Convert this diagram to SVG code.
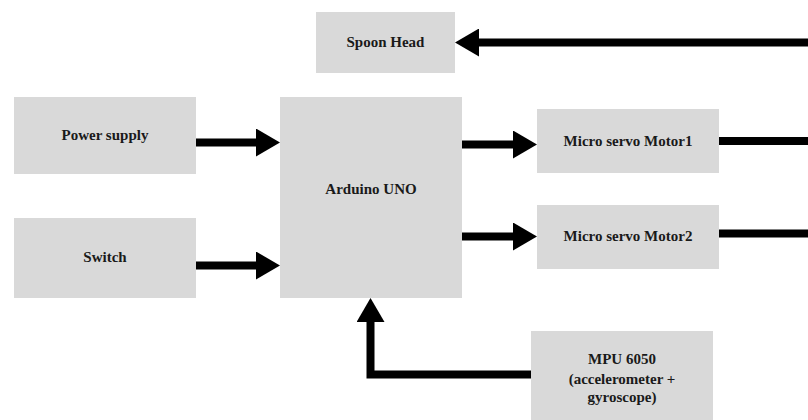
<svg xmlns="http://www.w3.org/2000/svg" width="808" height="420" viewBox="0 0 808 420">
<style>
.box{fill:#d9d9d9;}
.lbl{font-weight:700;font-size:15px;fill:#1a1a1a;text-anchor:middle;}
.wire{fill:none;stroke:#000;stroke-width:8;stroke-linejoin:miter;}
.arr{marker-end:url(#head);}
</style>
<defs>
<marker id="head" viewBox="0 0 24 28" markerWidth="24" markerHeight="28" markerUnits="userSpaceOnUse" refX="2" refY="14" orient="auto">
<path d="M0,0 L24,14 L0,28 Z" fill="#000"/>
</marker>
</defs>
<rect width="808" height="420" fill="#fff"/>
<g id="connectors">
<path class="wire arr" d="M808,42.5 H477"/>
<path class="wire arr" d="M196,142.5 H258"/>
<path class="wire arr" d="M196,265.5 H258"/>
<path class="wire arr" d="M462,144.5 H515"/>
<path class="wire arr" d="M462,236.5 H515"/>
<path class="wire" d="M719,141 H808"/>
<path class="wire" d="M719,233.5 H808"/>
<path class="wire arr" d="M531,374.5 H370.5 V320"/>
</g>
<g font-family="Liberation Serif, Times New Roman, serif">
<g id="spoon-head">
<rect class="box" x="316" y="12" width="139" height="61"/>
<text class="lbl" x="385.5" y="47">Spoon Head</text>
</g>
<g id="power-supply">
<rect class="box" x="14" y="97" width="182" height="77"/>
<text class="lbl" x="105" y="140">Power supply</text>
</g>
<g id="switch">
<rect class="box" x="14" y="218" width="182" height="80"/>
<text class="lbl" x="105" y="262">Switch</text>
</g>
<g id="arduino-uno">
<rect class="box" x="280" y="97" width="182" height="201"/>
<text class="lbl" x="371" y="194">Arduino UNO</text>
</g>
<g id="motor1">
<rect class="box" x="537" y="109" width="182" height="64"/>
<text class="lbl" x="628" y="146">Micro servo Motor1</text>
</g>
<g id="motor2">
<rect class="box" x="537" y="205" width="182" height="64"/>
<text class="lbl" x="628" y="241">Micro servo Motor2</text>
</g>
<g id="mpu6050">
<rect class="box" x="531" y="331" width="182" height="89"/>
<text class="lbl" x="622" y="364">MPU 6050</text>
<text class="lbl" x="622" y="384">(accelerometer +</text>
<text class="lbl" x="622" y="402">gyroscope)</text>
</g>
</g>
</svg>
